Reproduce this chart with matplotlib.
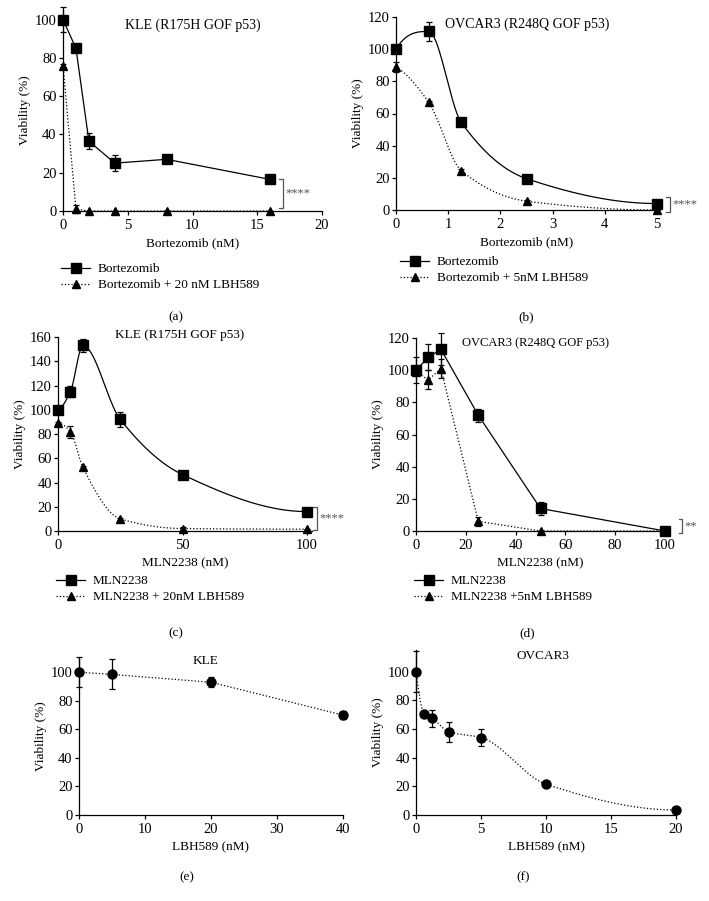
import numpy as np
import matplotlib
matplotlib.use('Agg')
import matplotlib.pyplot as plt

plt.rcParams['font.family'] = ['Liberation Serif', 'DejaVu Serif']
plt.rcParams['font.size'] = 9.5
plt.rcParams['xtick.labelsize'] = 10.5
plt.rcParams['ytick.labelsize'] = 10.5
plt.rcParams['axes.linewidth'] = 0.9
plt.rcParams['xtick.major.width'] = 0.9
plt.rcParams['ytick.major.width'] = 0.9
plt.rcParams['xtick.major.size'] = 3
plt.rcParams['ytick.major.size'] = 3
plt.rcParams['xtick.major.pad'] = 2.5
plt.rcParams['ytick.major.pad'] = 1.5

# (a) KLE bortezomib
a_x = [0, 1, 2, 4, 8, 16]
a_single = [100, 85, 36.5, 25, 27, 16.5]
a_single_err = [6.5, 1, 4, 4, 1, 1]
a_combo = [76, 1, 0, 0, 0, 0]
a_combo_err = [1, 2, 0, 0, 0, 0]

# (b) OVCAR3 bortezomib
b_x = [0, 0.625, 1.25, 2.5, 5]
b_single = [100, 111, 54.5, 19.5, 4]
b_single_err = [1, 6, 1, 1, 1]
b_combo = [89, 67, 24.5, 5.5, 0]
b_combo_err = [3, 1, 1, 1, 0]

# (c) KLE MLN2238
c_x = [0, 5, 10, 25, 50, 100]
c_single = [100, 115, 153, 92, 46.5, 16]
c_single_err = [1, 4.5, 5, 6.5, 1, 1]
c_combo = [89, 82, 52.5, 10, 2, 1.5]
c_combo_err = [1, 5, 1, 1, 1, 0.5]

# (d) OVCAR3 MLN2238
d_x = [0, 5, 10, 25, 50, 100]
d_single = [100, 108, 113, 72, 14, 0]
d_single_err = [8, 8, 10, 4, 4, 0]
d_combo = [99, 94, 101, 6, 0, 0]
d_combo_err = [0, 6, 6, 3, 0, 0]

# (e) KLE LBH589
e_x = [0, 5, 20, 40]
e_y = [100, 98.5, 93, 70]
e_err = [10.5, 10.5, 3.5, 3]

# (f) OVCAR3 LBH589
f_x = [0, 0.625, 1.25, 2.5, 5, 10, 20]
f_y = [100, 70.5, 67.5, 58, 54, 21.5, 3.5]
f_err = [14.5, 1, 6, 7, 6, 1, 0.5]


def pchip(x, y, n=300):
    # shape preserving curve for drawing the fitted lines
    x = np.asarray(x, float)
    y = np.asarray(y, float)
    h = np.diff(x)
    d = np.diff(y) / h
    m = np.zeros_like(y)
    for i in range(1, len(x) - 1):
        if d[i - 1] * d[i] > 0:
            w1 = 2 * h[i] + h[i - 1]
            w2 = h[i] + 2 * h[i - 1]
            m[i] = (w1 + w2) / (w1 / d[i - 1] + w2 / d[i])

    def end(h0, h1, d0, d1):
        v = ((2 * h0 + h1) * d0 - h0 * d1) / (h0 + h1)
        if np.sign(v) != np.sign(d0):
            return 0.0
        if np.sign(d0) != np.sign(d1) and abs(v) > abs(3 * d0):
            return 3 * d0
        return v
    m[0] = end(h[0], h[1], d[0], d[1])
    m[-1] = end(h[-1], h[-2], d[-1], d[-2])
    xs = np.linspace(x[0], x[-1], n)
    idx = np.clip(np.searchsorted(x, xs) - 1, 0, len(h) - 1)
    t = (xs - x[idx]) / h[idx]
    h00 = 2 * t**3 - 3 * t**2 + 1
    h10 = t**3 - 2 * t**2 + t
    h01 = -2 * t**3 + 3 * t**2
    h11 = t**3 - t**2
    ys = h00 * y[idx] + h10 * h[idx] * m[idx] + h01 * y[idx + 1] + h11 * h[idx] * m[idx + 1]
    return xs, ys


W, H = 709, 901
fig = plt.figure(figsize=(W / 100, H / 100), dpi=100)


def make_ax(l, r, b, t):
    ax = fig.add_axes([l / W, 1 - b / H, (r - l) / W, (b - t) / H])
    ax.spines['top'].set_visible(False)
    ax.spines['right'].set_visible(False)
    ax.set_ylabel('Viability (%)', labelpad=3)
    return ax


def series(ax, x, y, err, marker, ls, smooth, ms, label, z=5):
    if smooth:
        xs, ys = pchip(x, y)
        ax.plot(xs, ys, color='black', ls=ls, lw=0.9, clip_on=False, zorder=z - 2)
    else:
        ax.plot(x, y, color='black', ls=ls, lw=0.9, clip_on=False, zorder=z - 2)
    ax.errorbar(x, y, yerr=err, fmt='none', ecolor='black', elinewidth=0.9,
                capsize=2.5, capthick=0.9, clip_on=False, zorder=z - 1)
    ax.plot(x, y, ls='none', marker=marker, ms=ms, color='black', clip_on=False, zorder=z)
    ax.plot([], [], color='black', ls=ls, lw=0.9, marker=marker, ms=ms, label=label)


def bracket(ax, xb, y0, y1, txt, dx):
    gray = '#555555'
    ax.plot([xb - dx, xb, xb, xb - dx], [y0, y0, y1, y1], color=gray, lw=0.9, clip_on=False)
    ax.text(xb + dx * 0.6, (y0 + y1) / 2, txt, color=gray, va='center', ha='left', fontsize=9)


def legend(ax, px, py):
    ax.legend(loc='upper left', bbox_to_anchor=(px / W, 1 - py / H), bbox_transform=fig.transFigure,
              frameon=False, handlelength=2.2, handletextpad=0.6, borderpad=0, borderaxespad=0,
              labelspacing=0.3)


def caption(x, y, s, size=None):
    fig.text(x / W, 1 - y / H, s, ha='center', va='center', fontsize=size)


# (a)
ax = make_ax(63, 322, 211, 10)
series(ax, a_x, a_single, a_single_err, 's', '-', False, 6.5, 'Bortezomib', z=6)
series(ax, a_x, a_combo, a_combo_err, '^', ':', False, 6, 'Bortezomib + 20 nM LBH589')
ax.set_xlim(0, 20)
ax.set_ylim(0, 105)
ax.set_xticks(np.arange(0, 21, 5))
ax.set_yticks(np.arange(0, 101, 20))
ax.set_xlabel('Bortezomib (nM)')
bracket(ax, 17, a_combo[-1] + 1.5, a_single[-1], '****', 0.35)
caption(193, 25, 'KLE (R175H GOF p53)', 10)
legend(ax, 61, 263)
caption(176, 317, '(a)')

# (b)
ax = make_ax(396, 657, 210, 17)
series(ax, b_x, b_single, b_single_err, 's', '-', True, 6.5, 'Bortezomib', z=6)
series(ax, b_x, b_combo, b_combo_err, '^', ':', True, 6, 'Bortezomib + 5nM LBH589')
ax.set_xlim(0, 5)
ax.set_ylim(0, 120)
ax.set_xticks(np.arange(0, 6, 1))
ax.set_yticks(np.arange(0, 121, 20))
ax.set_xlabel('Bortezomib (nM)')
bracket(ax, 5.25, b_combo[-1] - 1, b_single[-1] + 4, '****', 0.07)
caption(527, 24, 'OVCAR3 (R248Q GOF p53)', 10)
legend(ax, 400, 256)
caption(526, 317, '(b)')

# (c)
ax = make_ax(58, 312, 531, 337)
series(ax, c_x, c_single, c_single_err, 's', '-', True, 6.5, 'MLN2238', z=6)
series(ax, c_x, c_combo, c_combo_err, '^', ':', True, 6, 'MLN2238 + 20nM LBH589')
ax.set_xlim(0, 102)
ax.set_ylim(0, 160)
ax.set_xticks([0, 50, 100])
ax.set_yticks(np.arange(0, 161, 20))
ax.set_xlabel('MLN2238 (nM)')
bracket(ax, 104, c_combo[-1] - 0.5, c_single[-1] + 4, '****', 1.5)
caption(180, 335, 'KLE (R175H GOF p53)')
legend(ax, 56, 575)
caption(176, 633, '(c)')

# (d)
ax = make_ax(416, 665, 531, 338)
series(ax, d_x, d_single, d_single_err, 's', '-', False, 6.5, 'MLN2238', z=6)
series(ax, d_x, d_combo, d_combo_err, '^', ':', False, 6, 'MLN2238 +5nM LBH589')
ax.set_xlim(0, 100)
ax.set_ylim(0, 120)
ax.set_xticks(np.arange(0, 101, 20))
ax.set_yticks(np.arange(0, 121, 20))
ax.set_xlabel('MLN2238 (nM)')
bracket(ax, 107, d_single[-1] - 1.5, d_single[-1] + 7.5, '**', 1.5)
caption(536, 343, 'OVCAR3 (R248Q GOF p53)', 9)
legend(ax, 414, 575)
caption(527, 633, '(d)')

# (e)
ax = make_ax(79, 343, 815, 658)
series(ax, e_x, e_y, e_err, 'o', ':', False, 6.5, 'LBH589')
ax.set_xlim(0, 40)
ax.set_ylim(0, 110)
ax.set_xticks(np.arange(0, 41, 10))
ax.set_yticks(np.arange(0, 101, 20))
ax.set_xlabel('LBH589 (nM)')
caption(206, 661, 'KLE')
caption(187, 877, '(e)')

# (f)
ax = make_ax(416, 676, 815, 650)
series(ax, f_x, f_y, f_err, 'o', ':', True, 6.5, 'LBH589')
ax.set_xlim(0, 20)
ax.set_ylim(0, 115)
ax.set_xticks(np.arange(0, 21, 5))
ax.set_yticks(np.arange(0, 101, 20))
ax.set_xlabel('LBH589 (nM)')
caption(543, 656, 'OVCAR3')
caption(523, 877, '(f)')

fig.savefig('out.png', dpi=100)
